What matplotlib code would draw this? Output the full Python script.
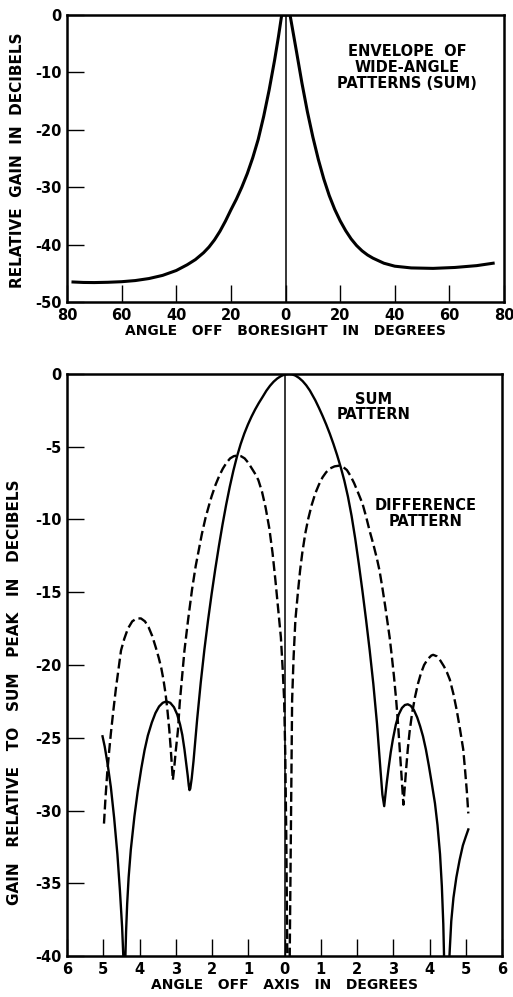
import numpy as np
from matplotlib import pyplot as plt
from matplotlib.ticker import FuncFormatter


#%%
# top panel: envelope of the wide-angle sum patterns (angle in degrees, gain in dB)
envAngle = [-77.8, -74, -70, -65, -60, -55, -50, -45, -40, -36, -33, -30, -28, -26, -24,
            -22, -20, -18, -16, -14, -12, -10, -8, -6, -4, -2.6, -2.0, -1.4,
            1.65, 2.0, 4.0, 6.0, 8.0, 10.0, 12, 14, 16, 18, 20, 22, 24, 26, 28, 30, 32,
            36, 40, 46, 54, 62, 70, 76]
envGain = [-46.5, -46.58, -46.6, -46.55, -46.45, -46.25, -45.9, -45.35, -44.5, -43.5, -42.6,
           -41.4, -40.4, -39.16, -37.66, -35.9, -33.94, -32.08, -29.98, -27.62, -24.86, -21.66,
           -17.66, -13.06, -7.86, -3.8, -1.9, 0,
           0, -0.95, -6.35, -11.85, -16.85, -21.25, -25.15, -28.55, -31.45, -33.85, -35.85,
           -37.55, -38.99, -40.15, -41.07, -41.79, -42.35, -43.23, -43.75, -44.05, -44.13,
           -43.97, -43.65, -43.23]

# bottom panel: sum pattern
sumAngle = [-5.02, -4.96, -4.88, -4.79, -4.70, -4.61, -4.54, -4.48, -4.43,
            -4.40, -4.37, -4.34, -4.30, -4.24, -4.14, -4.05, -3.95, -3.86, -3.77, -3.66, -3.56,
            -3.46, -3.36, -3.26, -3.15, -3.05, -2.96, -2.88, -2.82, -2.76, -2.71, -2.67, -2.64,
            -2.62, -2.60, -2.56, -2.51, -2.41, -2.31, -2.21, -2.11, -2.01, -1.91, -1.81, -1.71,
            -1.61, -1.51, -1.41, -1.31, -1.21, -1.11, -1.01, -0.91, -0.81, -0.71, -0.61, -0.50,
            -0.40, -0.30, -0.20, -0.10, 0.00, 0.12, 0.20, 0.30, 0.40, 0.50, 0.60, 0.70, 0.85,
            0.95, 1.05, 1.15, 1.25, 1.35, 1.45, 1.55, 1.65, 1.75, 1.85, 1.95, 2.05, 2.15, 2.25,
            2.35, 2.45, 2.55, 2.65, 2.70, 2.75, 2.78, 2.82, 2.87, 2.93, 2.99, 3.07, 3.15, 3.24,
            3.32, 3.40, 3.48, 3.57, 3.66, 3.74, 3.82, 3.90, 3.98, 4.06, 4.15, 4.22, 4.29, 4.34,
            4.38, 4.41, 4.53, 4.56, 4.60, 4.66, 4.74, 4.83, 4.92, 5.00, 5.07]
sumGain = [-24.9, -25.6, -26.8, -28.4, -30.5, -33.0, -35.5, -38.0, -41.0,
           -41.0, -38.3, -36.4, -34.6, -32.7, -30.4, -28.7, -27.1, -25.85, -24.85, -23.95, -23.3,
           -22.85, -22.6, -22.5, -22.6, -22.9, -23.4, -24.1, -24.8, -25.8, -26.8, -27.6, -28.3,
           -28.6, -28.5, -27.8, -26.6, -23.74, -21.19, -18.94, -16.94, -15.11, -13.41, -11.83, -10.35,
           -8.99, -7.75, -6.64, -5.66, -4.82, -4.10, -3.48, -2.93, -2.44, -2.0, -1.6, -1.15,
           -0.81, -0.53, -0.31, -0.15, -0.04, 0.0, -0.02, -0.11, -0.27, -0.49, -0.78, -1.14, -1.81,
           -2.33, -2.88, -3.47, -4.11, -4.81, -5.57, -6.40, -7.33, -8.43, -9.75, -11.31, -13.06, -14.92, -16.90,
           -19.00, -21.30, -24.00, -27.30, -28.9, -29.7, -29.0, -28.1, -27.1, -26.0, -25.1, -24.1, -23.4, -22.95,
           -22.75, -22.7, -22.8, -23.1, -23.6, -24.2, -24.9, -25.8, -26.9, -28.1, -29.5, -31.0, -33.0, -35.2,
           -37.8, -41.0, -41.0, -39.5, -37.6, -36.0, -34.6, -33.4, -32.4, -31.8, -31.3]

# bottom panel: difference pattern
diffAngle = [-4.98, -4.94, -4.89, -4.84, -4.79, -4.72, -4.65, -4.58, -4.51, -4.42, -4.32, -4.20,
             -4.08, -3.96, -3.85, -3.75, -3.65, -3.55, -3.47, -3.40, -3.34, -3.28, -3.23, -3.18,
             -3.14, -3.11, -3.08, -3.04, -3.00, -2.94, -2.89, -2.83, -2.76, -2.66, -2.55, -2.45, -2.38,
             -2.28, -2.18, -2.08, -2.01, -1.90, -1.80, -1.70, -1.60, -1.50, -1.40, -1.30, -1.20,
             -1.10, -1.00, -0.90, -0.80, -0.72, -0.62, -0.52, -0.42, -0.33, -0.25, -0.17, -0.10,
             -0.05, -0.01, 0.02, 0.05, 0.08, 0.14, 0.18, 0.21, 0.25, 0.30, 0.37, 0.43, 0.49,
             0.57, 0.65, 0.75, 0.85, 0.95, 1.05, 1.15, 1.25, 1.38, 1.51, 1.62, 1.72, 1.82, 1.92,
             2.02, 2.15, 2.25, 2.35, 2.45, 2.55, 2.62, 2.70, 2.78, 2.85, 2.90, 2.96, 3.02, 3.08,
             3.13, 3.18, 3.23, 3.28, 3.32, 3.36, 3.40, 3.45, 3.52, 3.60, 3.68, 3.76, 3.85, 3.95,
             4.05, 4.10, 4.20, 4.30, 4.40, 4.48, 4.56, 4.66, 4.75, 4.84, 4.93, 4.98, 5.03, 5.07]
diffGain = [-30.9, -29.2, -27.4, -26.0, -24.7, -23.1, -21.6, -20.3, -19.0, -18.2, -17.5, -17.0,
            -16.8, -16.8, -17.0, -17.4, -18.0, -18.8, -19.5, -20.2, -21.0, -22.0, -23.1, -24.4,
            -25.7, -26.8, -27.9, -27.0, -25.9, -24.5, -22.6, -20.9, -19.0, -16.9, -14.8, -13.2, -12.3,
            -11.0, -9.9, -9.0, -8.4, -7.6, -7.0, -6.5, -6.1, -5.8, -5.65, -5.6, -5.65,
            -5.8, -6.1, -6.5, -6.9, -7.3, -8.1, -9.2, -10.6, -12.3, -14.2, -16.3, -18.1,
            -20.3, -22.4, -26.0, -32.0, -41.0, -41.0, -30.0, -22.4, -19.5, -16.9, -15.0, -13.5, -12.3,
            -11.0, -10.0, -9.0, -8.2, -7.6, -7.1, -6.75, -6.5, -6.35, -6.3, -6.4, -6.6, -7.0, -7.5,
            -8.1, -8.9, -9.8, -10.8, -11.7, -12.7, -13.5, -14.7, -16.0, -17.2, -18.1, -19.4, -20.8, -22.4,
            -24.0, -25.8, -27.7, -29.6, -28.3, -27.0, -25.8, -24.6, -23.3, -22.2, -21.3, -20.6, -20.0, -19.6,
            -19.35, -19.3, -19.4, -19.7, -20.1, -20.5, -21.0, -22.0, -23.1, -24.4, -25.8, -27.2, -28.7, -30.2]

envTicksX = [-80, -60, -40, -20, 0, 20, 40, 60, 80]
envTicksY = [0, -10, -20, -30, -40, -50]
patTicksX = [-6, -5, -4, -3, -2, -1, 0, 1, 2, 3, 4, 5, 6]
patTicksY = [0, -5, -10, -15, -20, -25, -30, -35, -40]


def absLabel(v, pos):
    return '%d' % abs(round(v))


def styleAxes(ax):
    for s in ax.spines.values():
        s.set_linewidth(1.8)
    ax.tick_params(direction='in', length=12, width=1, labelsize=10.5, pad=4,
                   top=False, right=False)
    ax.xaxis.set_major_formatter(FuncFormatter(absLabel))


#%%
plt.rcParams['font.family'] = ['DejaVu Sans']
plt.rcParams['font.weight'] = 'bold'
plt.rcParams['axes.labelweight'] = 'bold'
plt.rcParams['axes.unicode_minus'] = False
fig = plt.figure(figsize=(5.13, 9.97), dpi=100)

axTop = fig.add_axes([0.1306, 0.697, 0.852, 0.288])
axTop.plot(envAngle, envGain, color='k', lw=2.2, solid_joinstyle='round')
axTop.axvline(0, color='k', lw=1.1)
axTop.set_xlim(-80, 80)
axTop.set_ylim(-50, 0)
axTop.set_xticks(envTicksX)
axTop.set_yticks(envTicksY)
styleAxes(axTop)
axTop.set_xlabel('ANGLE   OFF   BORESIGHT   IN   DEGREES', fontsize=10, labelpad=1)
axTop.set_ylabel('RELATIVE  GAIN  IN  DECIBELS', fontsize=11)
axTop.yaxis.set_label_coords(-0.096, 0.495)
axTop.text(44.5, -9.1, 'ENVELOPE  OF\nWIDE-ANGLE\nPATTERNS (SUM)', fontsize=10.5,
           ha='center', va='center', linespacing=1.1)

axBot = fig.add_axes([0.1306, 0.0411, 0.848, 0.5838])
axBot.plot(sumAngle, sumGain, color='k', lw=1.7, solid_joinstyle='round')
axBot.plot(diffAngle, diffGain, color='k', lw=1.7, dashes=(4.2, 1.8))
axBot.axvline(0, color='k', lw=1.1)
axBot.set_xlim(-6, 6)
axBot.set_ylim(-40, 0)
axBot.set_xticks(patTicksX)
axBot.set_yticks(patTicksY)
styleAxes(axBot)
axBot.set_xlabel('ANGLE   OFF   AXIS   IN   DEGREES', fontsize=10, labelpad=1)
axBot.set_ylabel('GAIN   RELATIVE   TO   SUM   PEAK   IN   DECIBELS', fontsize=11)
axBot.yaxis.set_label_coords(-0.104, 0.454)
axBot.text(2.45, -2.25, 'SUM\nPATTERN', fontsize=10.5, ha='center', va='center',
           linespacing=1.0)
axBot.text(3.9, -9.6, 'DIFFERENCE\nPATTERN', fontsize=10.5, ha='center', va='center',
           linespacing=1.1)

fig.savefig('out.png', dpi=100)
